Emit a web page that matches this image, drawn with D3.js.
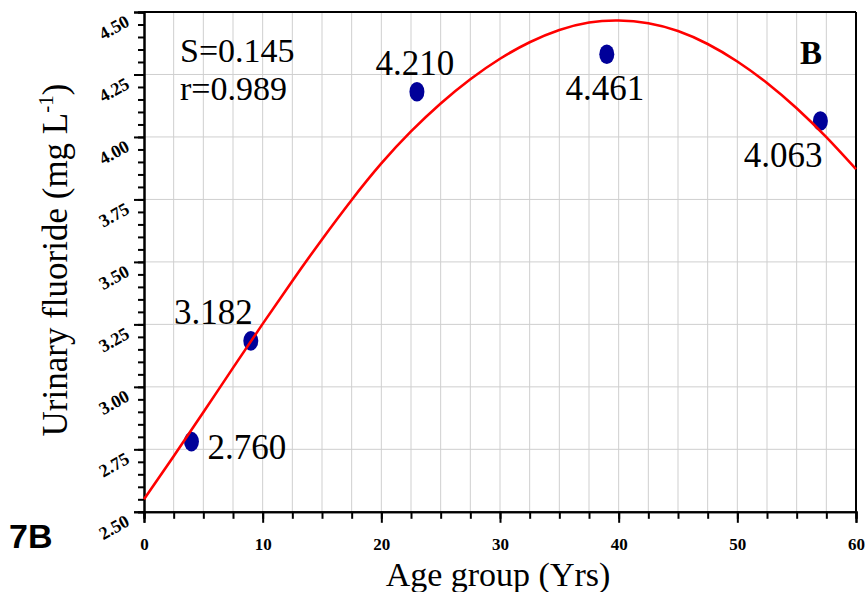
<!DOCTYPE html>
<html>
<head>
<meta charset="utf-8">
<script src="https://cdn.jsdelivr.net/npm/d3@7"></script>
<style>
  body { margin: 0; background: #fff; }
  svg { display: block; }
</style>
</head>
<body>
<div id="chart"></div>
<script>
// measured group means
const ageGroups = [4, 9, 23, 39, 57];
const fluorideMeans = [2.781, 3.184, 4.181, 4.331, 4.064];
const pointLabels = ["2.760", "3.182", "4.210", "4.461", "4.063"];

// fitted curve
const fitAges = [0, 2.5, 5, 7.5, 10, 12.5, 15, 17.5, 20, 22.5, 25, 27.5, 30, 32.5, 35, 37.5, 40, 42.5, 45, 47.5, 50, 52.5, 55, 57.5, 60];
const fitValues = [2.55, 2.722, 2.898, 3.076, 3.252, 3.424, 3.59, 3.748, 3.894, 4.022, 4.134, 4.231, 4.313, 4.379, 4.428, 4.458, 4.466, 4.455, 4.424, 4.372, 4.302, 4.216, 4.115, 3.999, 3.871];

const xTicks = [0, 10, 20, 30, 40, 50, 60];
const yTicks = [2.5, 2.75, 3.0, 3.25, 3.5, 3.75, 4.0, 4.25, 4.5];
const statsText = ["S=0.145", "r=0.989"];

const width = 867, height = 592;
const serif = '"Liberation Serif", "Times New Roman", serif';

const svg = d3.select("#chart").append("svg")
  .attr("width", width)
  .attr("height", height);

const x = d3.scaleLinear().domain([0, 60]).range([144, 856]);
const y = d3.scaleLinear().domain([2.5, 4.5]).range([511.8, 12]);

const xMinor = d3.range(0, 60.01, 2.5);
const yMinor = d3.range(2.5, 4.501, 0.05);

// grid
const grid = svg.append("g").attr("stroke", "#cfcfcf").attr("stroke-width", 1);
grid.selectAll("line.gx")
  .data(xMinor.filter((d) => d > 0 && d < 60))
  .join("line")
  .attr("x1", (d) => x(d)).attr("x2", (d) => x(d))
  .attr("y1", y(2.5)).attr("y2", y(4.5));
grid.selectAll("line.gy")
  .data(yTicks.filter((d) => d > 2.5 && d < 4.5))
  .join("line")
  .attr("y1", (d) => y(d)).attr("y2", (d) => y(d))
  .attr("x1", x(0)).attr("x2", x(60));

// frame (top + right)
svg.append("line").attr("x1", x(0)).attr("x2", x(60)).attr("y1", y(4.5)).attr("y2", y(4.5))
  .attr("stroke", "#000").attr("stroke-width", 2);
svg.append("line").attr("x1", x(60)).attr("x2", x(60)).attr("y1", y(4.5)).attr("y2", y(2.5))
  .attr("stroke", "#000").attr("stroke-width", 2);

// x axis
const xAxisG = svg.append("g").attr("transform", `translate(0,${y(2.5)})`);
xAxisG.append("g").call(d3.axisBottom(x).tickValues(xMinor).tickSize(7).tickFormat(""));
const xMajor = xAxisG.append("g").call(d3.axisBottom(x).tickValues(xTicks).tickSize(11).tickPadding(15).tickFormat(d3.format("d")));
xMajor.selectAll("text")
  .attr("font-family", serif).attr("font-weight", "bold").attr("font-size", 17).attr("fill", "#000");

// y axis
const yAxisG = svg.append("g").attr("transform", `translate(${x(0)},0)`);
yAxisG.append("g").call(d3.axisLeft(y).tickValues(yMinor).tickSize(6).tickFormat(""));
const yMajor = yAxisG.append("g").call(d3.axisLeft(y).tickValues(yTicks).tickSize(10).tickFormat(d3.format(".2f")));
yMajor.selectAll("text")
  .attr("x", null).attr("dy", null)
  .attr("text-anchor", "middle")
  .attr("dominant-baseline", "central")
  .attr("transform", "translate(-30,15) rotate(-29)")
  .attr("font-family", serif).attr("font-weight", "bold").attr("font-size", 18).attr("fill", "#000");

svg.selectAll(".domain").attr("stroke", "#000").attr("stroke-width", 2);
svg.selectAll(".tick line").attr("stroke", "#000").attr("stroke-width", 2);

// points (under the curve)
svg.append("g").selectAll("ellipse")
  .data(ageGroups)
  .join("ellipse")
  .attr("cx", (d) => x(d))
  .attr("cy", (d, i) => y(fluorideMeans[i]))
  .attr("rx", 7.5).attr("ry", 9.8)
  .attr("fill", "#000099");

// fitted curve
const line = d3.line()
  .curve(d3.curveNatural)
  .x((d) => x(d))
  .y((d, i) => y(fitValues[i]));
svg.append("path")
  .datum(fitAges)
  .attr("d", line)
  .attr("fill", "none")
  .attr("stroke", "#ff0000")
  .attr("stroke-width", 2.6);

// point labels
const labelPlacement = [
  { dx: 16, dy: 17, anchor: "start" },
  { dx: 2, dy: -17, anchor: "end" },
  { dx: -2, dy: -17, anchor: "middle" },
  { dx: -2, dy: 46, anchor: "middle" },
  { dx: 2, dy: 46, anchor: "end" }
];
svg.append("g").selectAll("text")
  .data(pointLabels)
  .join("text")
  .attr("x", (d, i) => x(ageGroups[i]) + labelPlacement[i].dx)
  .attr("y", (d, i) => y(fluorideMeans[i]) + labelPlacement[i].dy)
  .attr("text-anchor", (d, i) => labelPlacement[i].anchor)
  .attr("font-family", serif).attr("font-size", 35)
  .text((d) => d);

// stats
svg.append("g").selectAll("text")
  .data(statsText)
  .join("text")
  .attr("x", 180)
  .attr("y", (d, i) => 62 + i * 38)
  .attr("font-family", serif).attr("font-size", 34)
  .text((d) => d);

svg.append("text")
  .attr("x", 811).attr("y", 64)
  .attr("text-anchor", "middle")
  .attr("font-family", serif).attr("font-weight", "bold").attr("font-size", 33)
  .text("B");

// axis titles
svg.append("text")
  .attr("x", 498).attr("y", 586)
  .attr("text-anchor", "middle")
  .attr("font-family", serif).attr("font-size", 34)
  .text("Age group (Yrs)");

const yTitle = svg.append("text")
  .attr("transform", "translate(67,260) rotate(-90)")
  .attr("text-anchor", "middle")
  .attr("font-family", serif).attr("font-size", 35);
yTitle.append("tspan").text("Urinary fluoride (mg L");
yTitle.append("tspan").attr("dy", -14).attr("font-size", 21).text("-1");
yTitle.append("tspan").attr("dy", 14).text(")");

svg.append("text")
  .attr("x", 9).attr("y", 548)
  .attr("font-family", '"Liberation Sans", Arial, sans-serif')
  .attr("font-weight", "bold").attr("font-size", 34)
  .text("7B");
</script>
</body>
</html>
